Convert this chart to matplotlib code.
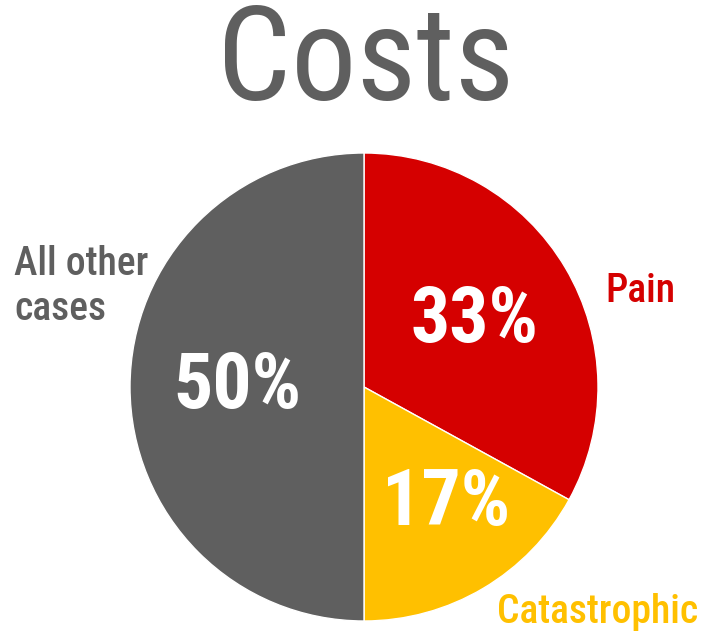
import matplotlib
matplotlib.use("Agg")
import matplotlib.pyplot as plt
from matplotlib import font_manager as fm

labels = ["Pain", "Catastrophic", "All other\ncases"]
values = [33, 17, 50]
colors = ["#d50000", "#ffc000", "#5f5f5f"]

# pick a condensed face if one is installed
fam = "DejaVu Sans"
for name in ["Roboto Condensed", "Liberation Sans Narrow", "Open Sans Condensed"]:
    try:
        fm.findfont(fm.FontProperties(family=name), fallback_to_default=False)
        fam = name
        break
    except ValueError:
        pass
plt.rcParams["font.family"] = [fam, "DejaVu Sans"]

fig = plt.figure(figsize=(7.04, 6.4), dpi=100)
ax = fig.add_axes([130 / 704, 19 / 640, 468 / 704, 468 / 640])

wedges, texts, autotexts = ax.pie(
    values, labels=labels, colors=colors, startangle=90, counterclock=False,
    autopct="%d%%", pctdistance=0.55, labeldistance=1.25,
    wedgeprops=dict(edgecolor="white", linewidth=1),
)
ax.set_xlim(-1, 1)
ax.set_ylim(-1, 1)
ax.set_aspect("equal")

# label placement
texts[0].set_position((1.18, 0.41))
texts[1].set_position((1.0, -0.96))
texts[2].set_position((-1.495, 0.43))
for t, c in zip(texts, colors):
    t.set_color(c)
    t.set_fontsize(28.5)
    t.set_fontweight("medium")
    t.set_ha("center")
    t.set_va("center")
    t.set_linespacing(1.25)
texts[2].set_ha("left")
texts[2].set_multialignment("left")

autotexts[1].set_position((0.35, -0.5))
autotexts[2].set_position((-0.54, 0.0))
for t in autotexts:
    t.set_color("white")
    t.set_fontsize(56)
    t.set_fontweight("bold")

fig.text(366 / 704, 1 - 64 / 640, "Costs", ha="center", va="center",
         fontsize=94, color="#5f5f5f")

fig.savefig("out.png", dpi=100)
